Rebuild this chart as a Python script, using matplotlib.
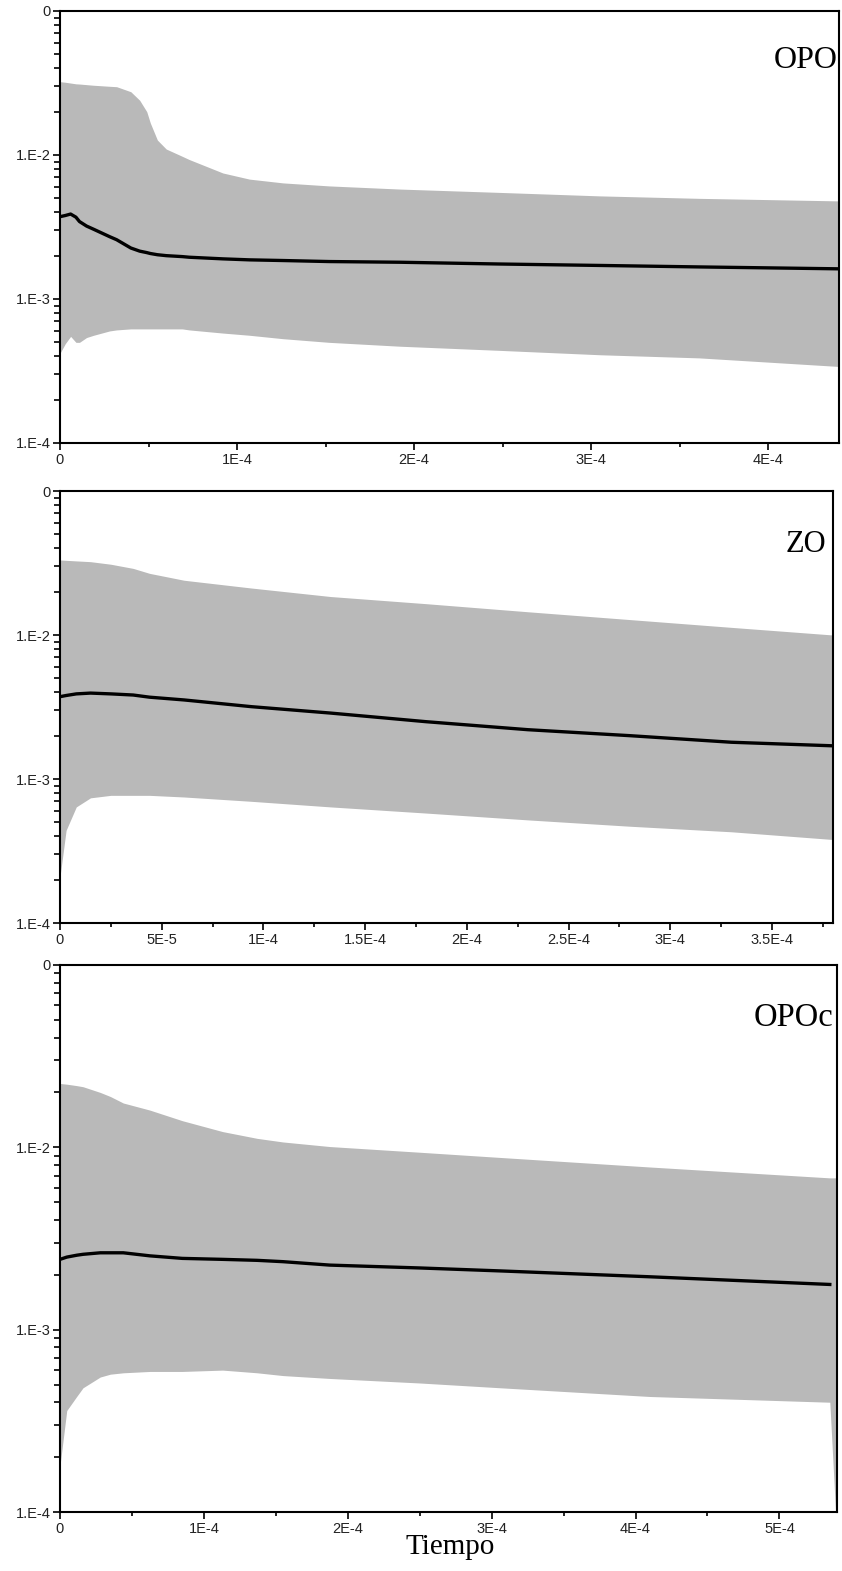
import matplotlib
matplotlib.use("Agg")
import matplotlib.pyplot as plt
from matplotlib.ticker import FixedLocator, FixedFormatter, LogLocator, NullFormatter, MultipleLocator

# OPO (tiempo en unidades de 1E-4)
x_opo = [0, 0.03, 0.06, 0.09, 0.11, 0.15, 0.19, 0.28, 0.32, 0.40, 0.45, 0.49, 0.51, 0.55, 0.60, 0.69, 0.73,
         0.92, 1.07, 1.26, 1.52, 1.92, 2.48, 3.05, 3.61, 4.40]
sup_opo = [0.0323, 0.0320, 0.0316, 0.0312, 0.0311, 0.0308, 0.0305, 0.0300, 0.0298, 0.0275, 0.0240, 0.0200,
           0.0167, 0.0127, 0.0110, 0.0098, 0.0093, 0.0075, 0.0068, 0.0064, 0.0061, 0.0058, 0.0055, 0.0052, 0.0050, 0.0048]
med_opo = [0.00373, 0.00380, 0.00389, 0.00370, 0.00345, 0.00321, 0.00305, 0.00271, 0.00258, 0.00226, 0.00215,
           0.00210, 0.00207, 0.00203, 0.00200, 0.00197, 0.00195, 0.00190, 0.00187, 0.00185, 0.00182, 0.00180,
           0.00175, 0.00171, 0.00167, 0.00162]
inf_opo = [0.00042, 0.00049, 0.00055, 0.00050, 0.00050, 0.00054, 0.00056, 0.00060, 0.00061, 0.00062, 0.00062,
           0.00062, 0.00062, 0.00062, 0.00062, 0.00062, 0.00061, 0.00058, 0.00056, 0.00053, 0.00050, 0.00047,
           0.00044, 0.00041, 0.00039, 0.00034]

# ZO
x_zo = [0, 0.03, 0.08, 0.15, 0.25, 0.36, 0.44, 0.61, 0.94, 1.33, 1.80, 2.30, 2.80, 3.30, 3.80]
sup_zo = [0.0332, 0.0330, 0.0327, 0.0323, 0.0310, 0.0290, 0.0268, 0.0240, 0.0212, 0.0185, 0.0165, 0.0145,
          0.0128, 0.0113, 0.0100]
med_zo = [0.00373, 0.00380, 0.00390, 0.00395, 0.00390, 0.00383, 0.00370, 0.00354, 0.00318, 0.00287, 0.00250,
          0.00220, 0.00200, 0.00180, 0.00170]
inf_zo = [0.00021, 0.00044, 0.00064, 0.00074, 0.00077, 0.00077, 0.00077, 0.00075, 0.00070, 0.00064, 0.00058,
          0.00052, 0.00047, 0.00043, 0.00038]

# OPOc
x_opoc = [0, 0.047, 0.116, 0.16, 0.28, 0.35, 0.44, 0.625, 0.85, 1.13, 1.37, 1.55, 1.875, 2.5, 3.06, 4.1, 5.35, 5.39]
sup_opoc = [0.0224, 0.0222, 0.0218, 0.0215, 0.0200, 0.0190, 0.0175, 0.0160, 0.0140, 0.0122, 0.0112, 0.0107,
            0.0101, 0.0094, 0.0088, 0.0078, 0.0068, 0.0068]
med_opoc = [0.00243, 0.00250, 0.00256, 0.00259, 0.00264, 0.00264, 0.00264, 0.00254, 0.00246, 0.00243, 0.00240,
            0.00236, 0.00226, 0.00218, 0.00210, 0.00195, 0.00177, 0.00177]
inf_opoc = [0.00018, 0.00036, 0.00043, 0.00048, 0.00055, 0.00057, 0.00058, 0.00059, 0.00059, 0.00060, 0.00058,
            0.00056, 0.00054, 0.00051, 0.00048, 0.00043, 0.00040, 0.0001]

# nombre, datos, xmax, ticks, caja en pixeles, etiqueta (x, y, tamaño)
paneles = [
    ("OPO", x_opo, sup_opo, med_opo, inf_opo, 4.4, [0, 1, 2, 3, 4], ["0", "1E-4", "2E-4", "3E-4", "4E-4"],
     [60, 11, 839, 443], (838, 60, 23)),
    ("ZO", x_zo, sup_zo, med_zo, inf_zo, 3.8, [0, 0.5, 1, 1.5, 2, 2.5, 3, 3.5],
     ["0", "5E-5", "1E-4", "1.5E-4", "2E-4", "2.5E-4", "3E-4", "3.5E-4"], [60, 491, 833, 923], (826, 545, 22)),
    ("OPOc", x_opoc, sup_opoc, med_opoc, inf_opoc, 5.4, [0, 1, 2, 3, 4, 5],
     ["0", "1E-4", "2E-4", "3E-4", "4E-4", "5E-4"], [60, 965, 837, 1512], (833, 1018, 23.5)),
]

W, H = 842, 1571
fig = plt.figure(figsize=(W / 100, H / 100), dpi=100)

for nombre, x, sup, med, inf, xmax, xt, xl, (x0, y0, x1, y1), (tx, ty, tsz) in paneles:
    ax = fig.add_axes([x0 / W, 1 - y1 / H, (x1 - x0) / W, (y1 - y0) / H])
    xs = [v * 1e-4 for v in x]
    ax.fill_between(xs, inf, sup, color="#b9b9b9", linewidth=0)
    n = len(xs) - 1 if nombre == "OPOc" else len(xs)
    ax.plot(xs[:n], med[:n], color="black", lw=2.4)
    ax.set_yscale("log")
    ax.set_ylim(1e-4, 1e-1)
    ax.set_xlim(0, xmax * 1e-4)
    ax.yaxis.set_major_locator(FixedLocator([1e-4, 1e-3, 1e-2, 1e-1]))
    ax.yaxis.set_major_formatter(FixedFormatter(["1.E-4", "1.E-3", "1.E-2", "0"]))
    ax.yaxis.set_minor_locator(LogLocator(base=10, subs=range(2, 10)))
    ax.yaxis.set_minor_formatter(NullFormatter())
    ax.xaxis.set_major_locator(FixedLocator([v * 1e-4 for v in xt]))
    ax.xaxis.set_major_formatter(FixedFormatter(xl))
    paso = (xt[1] - xt[0]) / 2
    ax.xaxis.set_minor_locator(MultipleLocator(paso * 1e-4))
    ax.tick_params(axis="both", which="major", direction="out", length=5, width=1.2,
                   labelsize=10.5, colors="black", pad=2)
    ax.tick_params(axis="y", which="minor", direction="out", length=4, width=1.2)
    ax.tick_params(axis="x", which="minor", direction="out", length=3, width=1.2)
    for lab in ax.get_xticklabels() + ax.get_yticklabels():
        lab.set_fontfamily("Liberation Sans")
        lab.set_color("#222222")
    for s in ax.spines.values():
        s.set_linewidth(1.5)
    fig.text(tx / W, 1 - ty / H, nombre, ha="right", va="center",
             fontsize=tsz, fontfamily="Liberation Serif")

fig.text(450 / W, 1 - 1547 / H, "Tiempo", ha="center", va="center", fontsize=21, fontfamily="Liberation Serif")

fig.savefig("out.png", dpi=100)
